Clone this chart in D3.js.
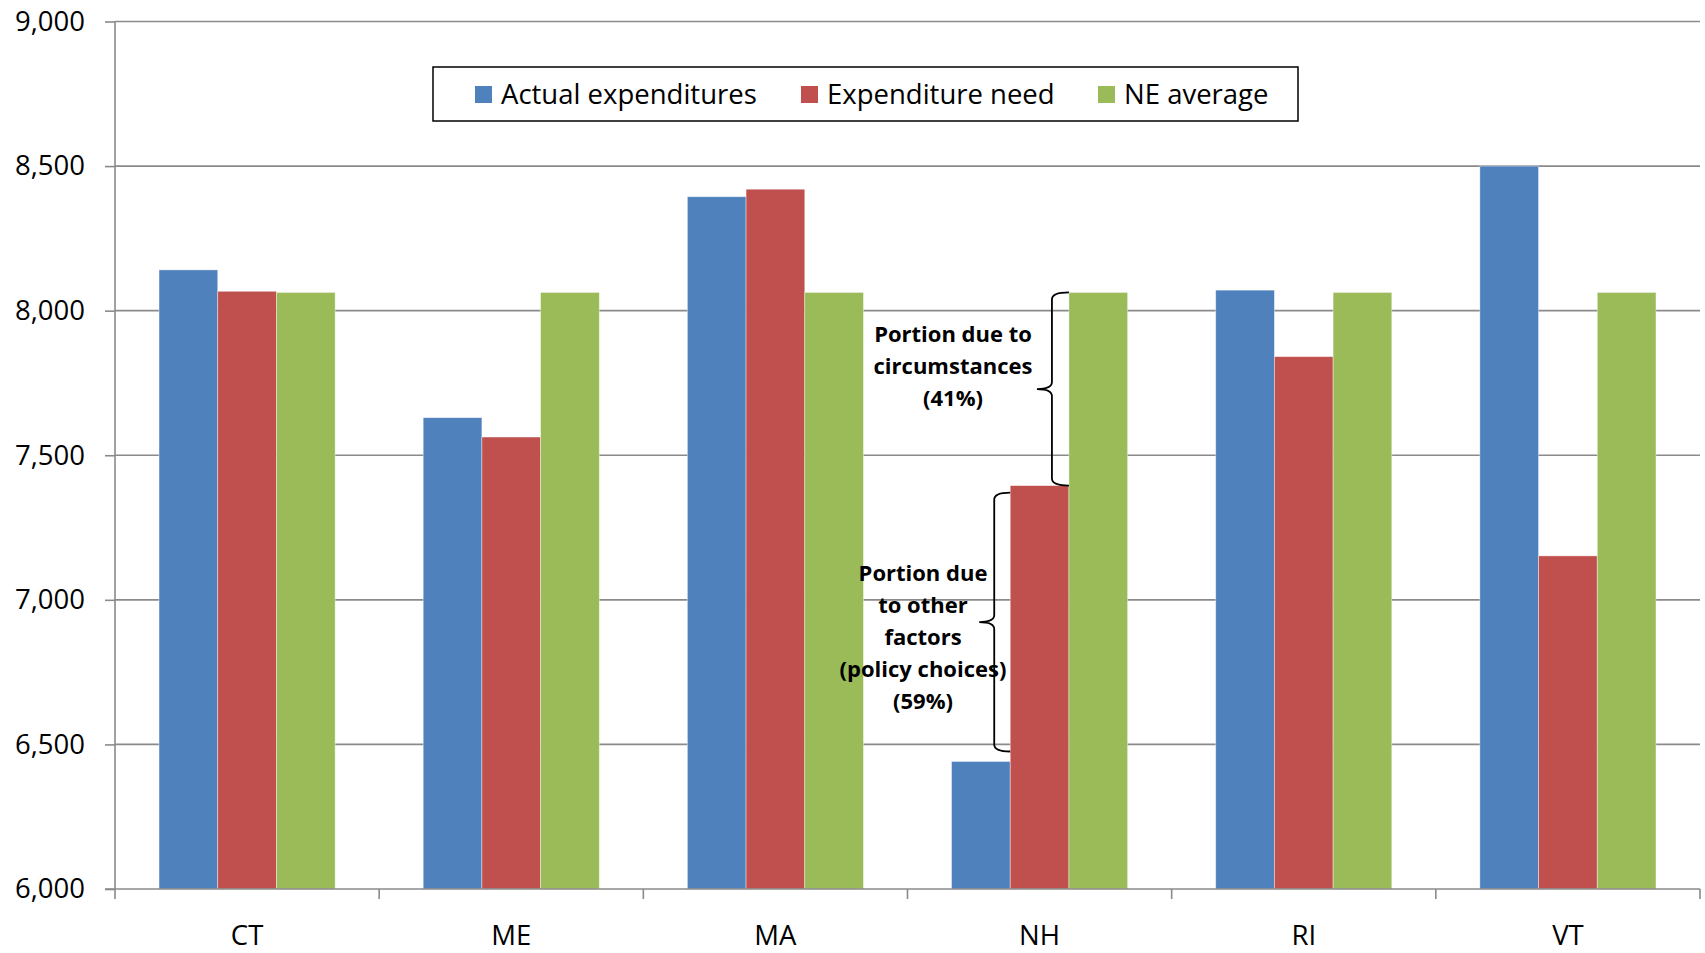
<!DOCTYPE html>
<html>
<head>
<meta charset="utf-8">
<script src="https://cdn.jsdelivr.net/npm/d3@7"></script>
<style>
  body { margin: 0; background: #fff; overflow: hidden; }
  svg { display: block; }
  svg text { font-family: "Open Sans", sans-serif; fill: #000; }
</style>
</head>
<body>
<div id="chart"></div>
<script>
// data
const states = ["CT", "ME", "MA", "NH", "RI", "VT"];
const seriesNames = ["Actual expenditures", "Expenditure need", "NE average"];
const actualExp = [8141, 7630, 8394, 6441, 8071, 8500];
const expNeed = [8067, 7563, 8420, 7395, 7841, 7152];
const neAverage = [8063, 8063, 8063, 8063, 8063, 8063];
const yTicks = [6000, 6500, 7000, 7500, 8000, 8500, 9000];
const colors = ["#4F81BD", "#C0504D", "#9BBB59"];

const W = 1705, H = 953;
const plotLeft = 115, plotRight = 1700, plotTop = 21.5, plotBottom = 889;

let svg = d3.select("#chart").append("svg")
    .attr("width", W)
    .attr("height", H);

let x0 = d3.scaleBand().domain(states).range([plotLeft, plotRight]).padding(0);
let bw = x0.bandwidth();
let x1 = d3.scaleBand().domain(seriesNames).range([bw / 6, bw * 5 / 6]).padding(0);
let y = d3.scaleLinear().domain([6000, 9000]).range([plotBottom, plotTop]);

//gridlines
svg.append("g").selectAll("line")
    .data(yTicks.slice(1))
    .join("line")
    .attr("x1", plotLeft).attr("x2", plotRight)
    .attr("y1", d => y(d)).attr("y2", d => y(d))
    .style("stroke", "#8a8a8a").style("stroke-width", 1.6);

//bars
let rows = states.map((s, i) => ({ state: s, vals: [actualExp[i], expNeed[i], neAverage[i]] }));
let groups = svg.append("g").selectAll("g")
    .data(rows)
    .join("g")
    .attr("transform", d => "translate(" + x0(d.state) + ",0)");

groups.selectAll("rect")
    .data(d => d.vals.map((v, j) => ({ name: seriesNames[j], v: v, j: j })))
    .join("rect")
    .attr("x", d => x1(d.name))
    .attr("width", x1.bandwidth())
    .attr("y", d => y(d.v))
    .attr("height", d => y(6000) - y(d.v))
    .style("fill", d => colors[d.j])
    .style("stroke", "rgba(255,255,255,0.5)")
    .style("stroke-width", 0.8);

//y axis
let yAxis = svg.append("g")
    .attr("transform", "translate(" + plotLeft + ",0)")
    .call(d3.axisLeft(y).tickValues(yTicks).tickSize(10).tickPadding(20).tickFormat(d3.format(",")));
yAxis.select(".domain").attr("d", "M0," + plotTop + "V" + plotBottom).style("stroke", "#8a8a8a").style("stroke-width", 1.6);
yAxis.selectAll(".tick line").style("stroke", "#8a8a8a").style("stroke-width", 1.6);
yAxis.selectAll(".tick text").attr("font-size", 27.5).style("font-family", "Open Sans");

//x axis
let xAxis = svg.append("g").attr("transform", "translate(0," + plotBottom + ")");
xAxis.append("line")
    .attr("x1", plotLeft - 10).attr("x2", plotRight)
    .style("stroke", "#8a8a8a").style("stroke-width", 1.6);
xAxis.selectAll("line.tk")
    .data(states.map(s => x0(s)).concat([plotRight]))
    .join("line")
    .attr("class", "tk")
    .attr("x1", d => d).attr("x2", d => d)
    .attr("y1", 0).attr("y2", 10)
    .style("stroke", "#8a8a8a").style("stroke-width", 1.6);
xAxis.selectAll("text")
    .data(states)
    .join("text")
    .attr("x", d => x0(d) + bw / 2)
    .attr("y", 56)
    .attr("text-anchor", "middle")
    .attr("font-size", 27.5)
    .text(d => d);

//legend
{
    let lg = svg.append("g");
    lg.append("rect")
        .attr("x", 433).attr("y", 67).attr("width", 865).attr("height", 54)
        .style("fill", "#fff").style("stroke", "#000").style("stroke-width", 1.5);
    let pos = [475, 801, 1098];
    seriesNames.forEach((n, i) => {
        lg.append("rect")
            .attr("x", pos[i]).attr("y", 86).attr("width", 17).attr("height", 17)
            .style("fill", colors[i]);
        lg.append("text")
            .attr("x", pos[i] + 26).attr("y", 104)
            .attr("font-size", 27.5)
            .text(n);
    });
}

//braces for NH
function Brace(g, xv, yTop, yBot, ext, tip) {
    let r = 7;
    let mid = (yTop + yBot) / 2;
    let p = "M" + (xv + ext) + "," + yTop +
        "Q" + xv + "," + yTop + " " + xv + "," + (yTop + r) +
        "L" + xv + "," + (mid - r) +
        "Q" + xv + "," + mid + " " + (xv - tip) + "," + mid +
        "Q" + xv + "," + mid + " " + xv + "," + (mid + r) +
        "L" + xv + "," + (yBot - r) +
        "Q" + xv + "," + yBot + " " + (xv + ext) + "," + yBot;
    g.append("path").attr("d", p).style("fill", "none").style("stroke", "#000").style("stroke-width", 1.8);
}

function Label(g, xc, yStart, lines) {
    let t = g.append("text")
        .attr("text-anchor", "middle")
        .attr("font-size", 22)
        .attr("font-weight", "bold");
    lines.forEach((l, i) => {
        t.append("tspan").attr("x", xc).attr("y", yStart + i * 32).text(l);
    });
}

{
    let i = states.indexOf("NH");
    let gx = x0("NH");
    let ann = svg.append("g");
    let xGreen = gx + x1("NE average");
    let xRed = gx + x1("Expenditure need");
    Brace(ann, xGreen - 17, y(neAverage[i]), y(expNeed[i]), 17, 15);
    Brace(ann, xRed - 16, y(expNeed[i]) + 7, y(actualExp[i]) - 10, 16, 15);
    Label(ann, 953, 342, ["Portion due to", "circumstances", "(41%)"]);
    Label(ann, 923, 581, ["Portion due", "to other", "factors", "(policy choices)", "(59%)"]);
}
</script>
</body>
</html>
